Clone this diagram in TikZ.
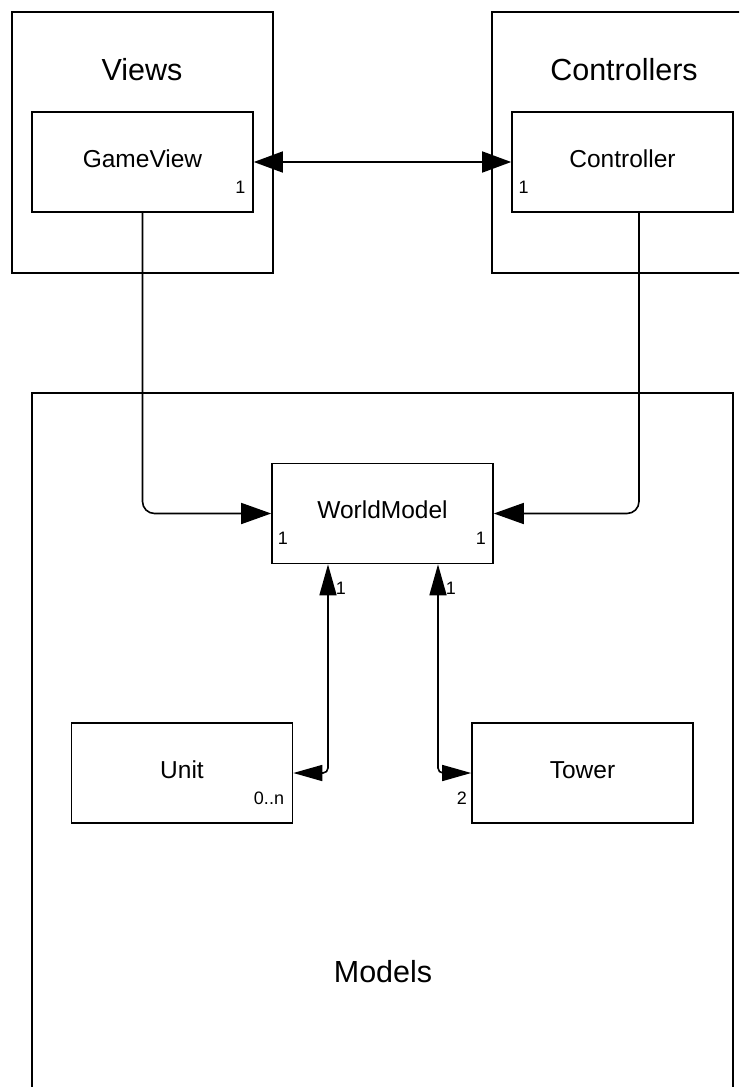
\documentclass[tikz,border=0pt]{standalone}
\usepackage{fontspec}
\setmainfont{Liberation Sans}
\usetikzlibrary{arrows.meta}
\begin{document}
\begin{tikzpicture}[
        x = 1pt, y = -1pt,
        group/.style = {draw, line width = 1.6pt, rectangle, inner sep = 0mm},
        cls/.style = {draw, line width = 1.6pt, rectangle, inner sep = 0mm, minimum width = 221pt, minimum height = 100pt,
                      text height = 17pt, text depth = 7pt, font = \fontsize{24.5}{29}\selectfont},
        title/.style = {inner sep = 0mm, font = \fontsize{30.5}{36}\selectfont},
        mult/.style = {inner sep = 0mm, font = \fontsize{18}{21}\selectfont},
        arr/.style = {draw, line width = 1.6pt, -{Triangle[length = 30pt, width = 21pt]}},
        biarr/.style = {draw, line width = 1.6pt, {Triangle[length = 29pt, width = 21pt]}-{Triangle[length = 29pt, width = 21pt]}},
        link/.style = {draw, line width = 1.6pt, {Triangle[length = 31pt, width = 17pt]}-{Triangle[length = 29pt, width = 16pt]}},
    ]
    \useasboundingbox (0,0) rectangle (739,1087);
    \clip (0,0) rectangle (739,1087);

    % packages
    \node (VIEWS) [group, minimum width = 261pt, minimum height = 261pt] at (142.3,142.3){};
    \node (CTRLS) [group, minimum width = 280pt, minimum height = 261pt] at (632,142.3){};
    \node (MODELS) [group, minimum width = 701pt, minimum height = 740pt] at (382.5,763){};

    \node (VIEWST) [title] at (142,70) {Views};
    \node (CTRLST) [title] at (624,70) {Controllers};
    \node (MODELST) [title] at (383,972) {Models};

    % classes
    \node (GV) [cls] at (142.5,162) {GameView};
    \node (CT) [cls] at (622.5,162) {Controller};
    \node (WM) [cls] at (382.5,513.5) {WorldModel};
    \node (UN) [cls] at (182,773) {Unit};
    \node (TW) [cls] at (582.5,773) {Tower};

    % multiplicities
    \node (GV1) [mult] at (240.5,187) {1};
    \node (CT1) [mult] at (523.5,187) {1};
    \node (WML) [mult] at (283,538) {1};
    \node (WMR) [mult] at (481,538) {1};
    \node (WMU) [mult] at (341,588) {1};
    \node (WMT) [mult] at (451,588) {1};
    \node (UNN) [mult] at (269,798) {0..n};
    \node (TW2) [mult] at (462,798) {2};

    \path[biarr] (GV.east) -- (CT.west);
    \path[arr, rounded corners = 12pt] (GV.south) |- (WM.west);
    \path[arr, rounded corners = 12pt] ([xshift = 16.5pt]CT.south) |- (WM.east);
    \path[link, rounded corners = 5pt] ([xshift = -54.5pt]WM.south) |- (UN.east);
    \path[link, rounded corners = 5pt] ([xshift = 55.5pt]WM.south) |- (TW.west);
\end{tikzpicture}
\end{document}
